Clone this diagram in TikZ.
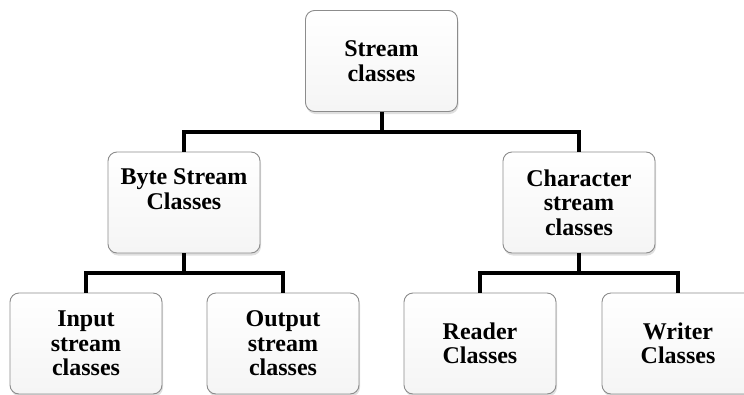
\documentclass[tikz,border=0pt]{standalone}
\usepackage{fontspec}
\setmainfont{Liberation Serif}
\usetikzlibrary{shadows}
\begin{document}
\begin{tikzpicture}[x=1pt,y=-1pt,
  box/.style={draw=black!45, line width=0.9pt, rounded corners=9pt,
    top color=white, bottom color=black!4,
    minimum width=152pt, minimum height=101pt, inner sep=0pt,
    align=center, font=\fontsize{24}{24.5}\selectfont\bfseries,
    drop shadow={shadow xshift=1pt, shadow yshift=-2.5pt, opacity=0.25}},
  conn/.style={line width=4pt, line join=miter}]
\useasboundingbox (0,0) rectangle (744,394);
\node[box] (root) at (381.5,61) {Stream\\classes};
\node[box] (byte) at (184,202.5) {Byte Stream\\Classes\\[2pt]};
\node[box] (char) at (579,202.5) {Character\\stream\\classes};
\node[box] (input) at (86,343.5) {Input\\stream\\classes};
\node[box] (output) at (283,343.5) {Output\\stream\\classes};
\node[box] (reader) at (480,343.5) {Reader\\Classes};
\node[box] (writer) at (678,343.5) {Writer\\Classes};
\coordinate (j1) at (381.5,132);
\coordinate (j2) at (184,273);
\coordinate (j3) at (579,273);
\draw[conn] (root) -- (j1);
\draw[conn] (byte.north) |- (j1) -| (char.north);
\draw[conn] (byte) -- (j2);
\draw[conn] (input.north) |- (j2) -| (output.north);
\draw[conn] (char) -- (j3);
\draw[conn] (reader.north) |- (j3) -| (writer.north);
\end{tikzpicture}
\end{document}
